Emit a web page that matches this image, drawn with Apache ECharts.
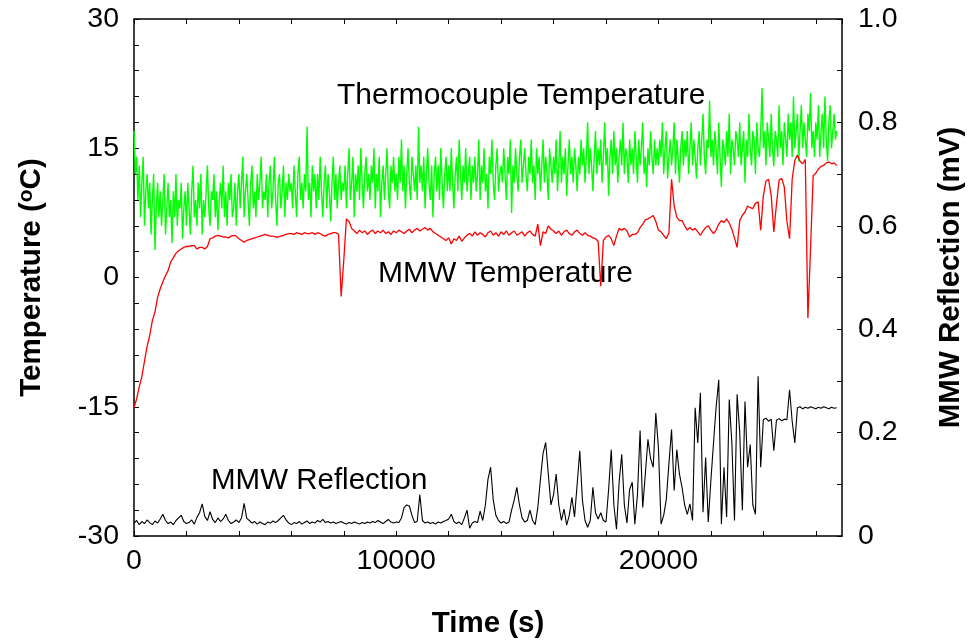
<!DOCTYPE html>
<html>
<head>
<meta charset="utf-8">
<script src="https://cdn.jsdelivr.net/npm/echarts@6/dist/echarts.min.js"></script>
<style>
html,body{margin:0;padding:0;background:#fff;}
#chart{width:974px;height:644px;}
</style>
</head>
<body>
<div id="chart"></div>
<script>
// sampling intervals (s)
const thermoStep = 50;
const mmwStep = 100;

// Thermocouple temperature (deg C), one value per thermoStep
const thermoTemp = [
17,12,14,9,13,7,11,14,6,10,12,8,11,5,9,12,3.2,8,11,7,
10,6,9,12,5,8,11,7,9,4,10,7,12,6,9,8,11,4.5,8,10,
6,11,8,5,10,13,7,9,6,11,8,12,5,9,7,10,13,8,6,10,
9,12,7,10,5.5,9,11,8,13,7,10,6,11,9,12,7,8,11,6,10,
12,8,11,14,7,10,12,9,6,11,13,8,10,7,12,9,11,14,8,10,
9,12,7,11,13,8,10,14,9,6,11,12,8,10,13,7,11,9,12,10,
11,8,13,10,7,12,14,9,11,8,12,10,17.5,9,11,7,13,10,12,8,
12,9,14,10,7,11,13,8,12,10,6.5,11,14,9,12,8,11,13,9,11,
10,13,8,12,15,9,11,14,7,12,10,13,9,15,11,8,12,14,10,12,
9,13,11,15,8,12,10,14,7,11,13,9,12,15,10,8,13,11,14,10,
12,9,14,11,16,10,13,8,12,15,11,9,14,12,10,13,9,17.5,11,13,
10,14,8,12,15,11,9,13,7,12,14,10,13,9,15,11,8,12,14,10,
13,10,15,11,8,12,14,10,16,12,9,13,11,15,10,12,14,9,13,11,
14,10,12,16,9,13,11,15,10,12,8,14,12,16,11,9,13,15,10,12,
13,11,15,12,9,14,12,16,7.5,13,11,15,12,10,14,16,11,13,15,12,
10,14,12,16,11,13,9,15,12,14,10,13,16,11,14,12,9,15,13,11,
14,12,16,10,13,17,11,14,12,15,9.5,13,16,12,14,11,15,13,10,14,
12,16,13,15,11,14,18,12,15,13,10,14,17,12,15,13,16,11,14,18,
13,15,9.5,14,16,12,17,13,15,11,14,16,13,18,12,15,14,11,16,13,
15,12,17,14,11,16,13,15,18,12,14,10.5,15,13,17,14,12,16,13,15,
13,16,14,18,12,15,17,11.5,14,16,13,15,18,12,16,14,11,15,17,13,
16,14,17,12,15,18,13,16,14,11.5,15,17,13,16,19,14,12,16,15,20.5,
14,16,13,17,15,12,18,14,10.5,16,15,13,17,14,19,12,16,15,13,17,
16,14,18,13,15,17,11,16,14,19,15,13,17,16,12,18,15,14,17,22,
15,17,13,18,16,14,19,15,12.9,17,16,14,20,15,17,13,18,16,14,19,
16,18,14,21,15,17,19,13.5,17,20,15,18,16,14,19,17,21.4,15,17,14,
18,16,20,14,17,19,15,21,16,13.5,18,20,15,17,19,16,17
];

// MMW temperature (deg C), one value per mmwStep
const mmwTemp = [
-15.1,-14.1,-12.7,-11.5,-9.7,-8.0,-6.7,-5.0,-4.0,-2.3,
-1.3,-0.5,0.2,0.8,1.8,2.3,2.8,3.1,3.3,3.5,
3.6,3.6,3.7,3.7,3.3,3.5,3.5,3.3,3.6,4.5,
4.6,4.8,4.9,4.8,4.7,4.7,4.6,4.8,4.9,4.8,
4.5,4.3,4.1,4.3,4.4,4.5,4.6,4.7,4.8,4.9,
5.0,4.9,4.8,4.8,4.7,4.7,4.8,4.9,5.0,5.1,
5.1,5.0,5.2,5.1,5.0,5.2,5.1,5.1,5.2,5.0,
5.2,5.1,4.9,4.8,5.0,5.1,5.2,5.2,5.0,-2.2,
2.0,6.8,6.5,5.7,5.4,5.1,5.5,5.2,5.4,5.0,
5.3,5.5,5.1,5.4,5.2,5.5,5.1,5.3,5.0,5.4,
5.2,5.5,5.3,5.1,5.4,5.6,5.2,5.5,5.7,5.4,
5.6,5.8,5.5,5.7,5.3,5.1,4.9,4.7,4.5,4.3,
4.6,3.9,4.5,4.3,4.8,4.2,4.6,4.9,5.1,4.8,
5.3,4.9,5.2,5.0,4.7,5.2,5.4,4.9,5.2,4.8,
5.3,5.0,5.4,4.9,5.2,5.4,4.9,5.1,5.3,4.8,
5.2,5.4,5.0,4.8,6.2,3.7,5.3,5.1,6.0,5.6,
5.4,5.1,5.4,4.9,5.3,5.5,5.1,4.9,5.3,5.5,
5.1,4.9,5.2,4.9,4.8,4.6,4.5,4.2,-1.0,4.3,
4.7,4.9,4.5,3.7,4.8,5.7,5.5,5.7,5.4,4.7,
5.0,5.0,5.2,5.8,6.2,6.7,6.8,7.0,7.2,6.5,
5.5,5.3,4.9,4.5,5.2,11.4,8.3,7.0,6.6,6.6,
6.0,5.5,5.8,5.5,5.7,5.3,4.9,5.4,5.8,6.0,
5.5,5.1,5.5,6.2,6.6,6.4,6.8,6.3,5.6,4.6,
3.5,6.6,7.2,7.6,8.3,8.1,8.0,8.6,8.8,5.5,
9.5,11.2,11.4,9.5,5.3,8.5,11.3,11.5,10.5,6.5,
4.5,11.4,13.6,14.2,13.5,13.2,13.7,-4.7,3.3,11.8,
12.1,12.6,12.9,13.0,13.3,13.4,13.2,13.3,13.0
];

// MMW reflection (mV), one value per mmwStep
const mmwRefl = [
0.025,0.030,0.022,0.028,0.024,0.031,0.026,0.022,0.029,0.025,
0.033,0.042,0.030,0.024,0.027,0.022,0.030,0.035,0.040,0.028,
0.024,0.026,0.031,0.023,0.036,0.045,0.062,0.038,0.030,0.047,
0.032,0.026,0.035,0.028,0.033,0.042,0.030,0.024,0.027,0.031,
0.026,0.035,0.063,0.034,0.030,0.025,0.028,0.023,0.027,0.024,
0.022,0.027,0.025,0.029,0.026,0.030,0.035,0.040,0.031,0.025,
0.022,0.026,0.024,0.028,0.023,0.026,0.029,0.024,0.027,0.025,
0.030,0.027,0.032,0.026,0.028,0.025,0.027,0.024,0.026,0.028,
0.025,0.023,0.026,0.024,0.027,0.025,0.023,0.026,0.024,0.027,
0.025,0.028,0.026,0.030,0.027,0.024,0.028,0.032,0.027,0.025,
0.027,0.026,0.035,0.055,0.060,0.058,0.040,0.026,0.028,0.080,
0.030,0.025,0.027,0.024,0.026,0.023,0.027,0.025,0.028,0.030,
0.033,0.042,0.028,0.024,0.027,0.022,0.035,0.050,0.015,0.025,
0.028,0.026,0.048,0.030,0.060,0.110,0.133,0.070,0.040,0.030,
0.025,0.028,0.024,0.027,0.050,0.070,0.094,0.060,0.035,0.027,
0.030,0.050,0.030,0.022,0.055,0.110,0.160,0.181,0.120,0.060,
0.080,0.120,0.060,0.030,0.052,0.021,0.040,0.075,0.037,0.100,
0.165,0.070,0.030,0.017,0.030,0.094,0.045,0.033,0.045,0.030,
0.027,0.090,0.167,0.060,0.013,0.104,0.158,0.060,0.025,0.090,
0.104,0.023,0.080,0.204,0.055,0.120,0.187,0.150,0.133,0.238,
0.170,0.023,0.040,0.071,0.140,0.206,0.088,0.167,0.120,0.094,
0.060,0.042,0.062,0.030,0.248,0.180,0.277,0.046,0.152,0.027,
0.108,0.180,0.250,0.302,0.023,0.133,0.037,0.264,0.180,0.030,
0.274,0.200,0.050,0.260,0.133,0.177,0.060,0.042,0.309,0.133,
0.225,0.228,0.222,0.226,0.165,0.224,0.227,0.223,0.226,0.225,
0.283,0.222,0.180,0.248,0.250,0.246,0.249,0.247,0.250,0.248,
0.246,0.249,0.247,0.250,0.248,0.246,0.249,0.247,0.248
];

// axis ranges and labelled ticks
const timeMax = 27000;
const timeLabels = [0, 10000, 20000];
const tempLabels = [-30, -15, 0, 15, 30];
const reflLabels = ['0', '0.2', '0.4', '0.6', '0.8', '1.0'];

const FONT = 'Liberation Sans, Arial, Helvetica, sans-serif';
const toPairs = (arr, step) => arr.map((v, i) => [i * step, v]);

const axisLineStyle = { show: true, onZero: false, lineStyle: { color: '#000', width: 1.5 } };
const tickStyle = { show: true, inside: true, length: 5, lineStyle: { color: '#000', width: 1 } };
const titleStyle = { color: '#000', fontSize: 29.5, fontWeight: 'bold', fontFamily: FONT };

const chart = echarts.init(document.getElementById('chart'), null, { renderer: 'canvas' });
chart.setOption({
  animation: false,
  backgroundColor: '#fff',
  grid: { left: 134, right: 125, top: 19, bottom: 105, containLabel: false },
  xAxis: [
    {
      type: 'value', position: 'bottom', min: 0, max: timeMax, interval: 2000,
      axisLine: axisLineStyle, axisTick: tickStyle, splitLine: { show: false },
      axisLabel: {
        color: '#000', fontSize: 28.5, fontFamily: FONT, margin: 11, showMaxLabel: false,
        formatter: v => timeLabels.indexOf(v) >= 0 ? String(v) : ''
      },
      name: 'Time (s)', nameLocation: 'middle', nameGap: 73,
      nameTextStyle: titleStyle
    },
    {
      type: 'value', position: 'top', min: 0, max: timeMax, interval: 2000,
      axisLine: axisLineStyle, axisTick: tickStyle, splitLine: { show: false },
      axisLabel: { show: false }
    }
  ],
  yAxis: [
    {
      type: 'value', position: 'left', min: -30, max: 30, interval: 3,
      axisLine: axisLineStyle, axisTick: tickStyle, splitLine: { show: false },
      axisLabel: {
        color: '#000', fontSize: 28.5, fontFamily: FONT, margin: 15,
        formatter: v => tempLabels.indexOf(v) >= 0 ? String(v) : ''
      },
      name: 'Temperature ({sup|o}C)', nameLocation: 'middle', nameGap: 86, nameRotate: 90,
      nameTextStyle: Object.assign({}, titleStyle, {
        lineHeight: 32,
        rich: { sup: { fontSize: 21, fontWeight: 'bold', fontFamily: FONT, color: '#000', verticalAlign: 'top', lineHeight: 16 } }
      })
    },
    {
      type: 'value', position: 'right', min: 0, max: 1, interval: 0.1,
      axisLine: axisLineStyle, axisTick: tickStyle, splitLine: { show: false },
      axisLabel: {
        color: '#000', fontSize: 28.5, fontFamily: FONT, margin: 16,
        formatter: v => { const k = Math.round(v * 10); return k % 2 ? '' : reflLabels[k / 2]; }
      },
      name: 'MMW Reflection (mV)', nameLocation: 'middle', nameGap: 94, nameRotate: 90,
      nameTextStyle: titleStyle
    }
  ],
  graphic: [
    { type: 'text', left: 337, top: 81, style: { text: 'Thermocouple Temperature', fill: '#000', font: '30px ' + FONT } },
    { type: 'text', left: 378, top: 259, style: { text: 'MMW Temperature', fill: '#000', font: '30px ' + FONT } },
    { type: 'text', left: 211, top: 466, style: { text: 'MMW Reflection', fill: '#000', font: '29.5px ' + FONT } }
  ],
  series: [
    { name: 'Thermocouple Temperature', type: 'line', xAxisIndex: 0, yAxisIndex: 0, data: toPairs(thermoTemp, thermoStep),
      showSymbol: false, symbol: 'none', lineStyle: { color: '#00ff00', width: 1.4 }, z: 2 },
    { name: 'MMW Temperature', type: 'line', xAxisIndex: 0, yAxisIndex: 0, data: toPairs(mmwTemp, mmwStep),
      showSymbol: false, symbol: 'none', lineStyle: { color: '#ff0000', width: 1.3 }, z: 3 },
    { name: 'MMW Reflection', type: 'line', xAxisIndex: 0, yAxisIndex: 1, data: toPairs(mmwRefl, mmwStep),
      showSymbol: false, symbol: 'none', lineStyle: { color: '#000', width: 1.1 }, z: 4 }
  ]
});
</script>
</body>
</html>
